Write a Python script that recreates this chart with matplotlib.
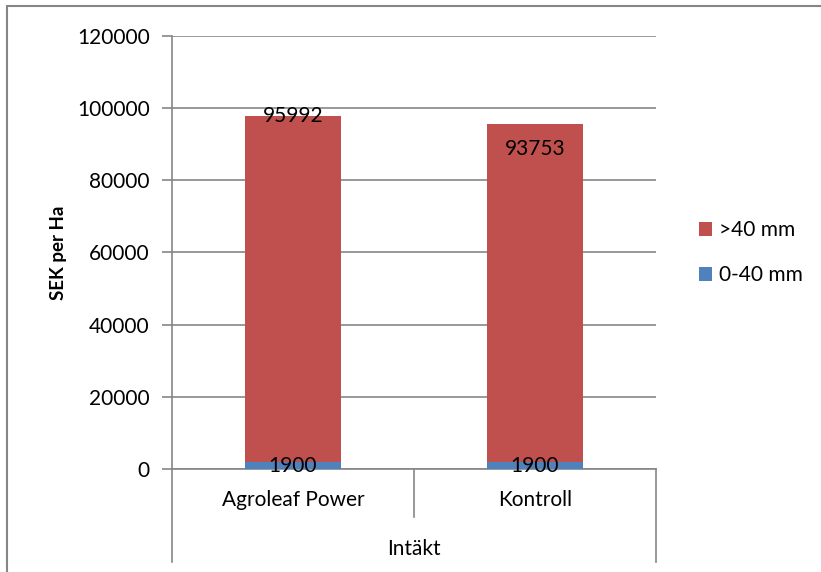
import matplotlib
matplotlib.use("Agg")
import matplotlib.pyplot as plt
from matplotlib.patches import Rectangle
import numpy as np

plt.rcParams['font.family'] = ['Lato', 'DejaVu Sans']

categories = ["Agroleaf Power", "Kontroll"]
group_label = "Intäkt"
small = [1900, 1900]        # 0-40 mm
large = [95992, 93753]      # >40 mm
y_ticks = [0, 20000, 40000, 60000, 80000, 100000, 120000]

red = "#C0504D"
blue = "#4F81BD"
grey = "#868686"
fs = 15

W, H = 821, 572
fig = plt.figure(figsize=(W / 100, H / 100), dpi=100)
ax = fig.add_axes([172 / W, 1 - 469 / H, (656 - 172) / W, (469 - 36) / H])

x = np.arange(len(categories))
ax.bar(x, small, width=0.4, color=blue, label="0-40 mm", zorder=3)
ax.bar(x, large, width=0.4, bottom=small, color=red, label=">40 mm", zorder=3)

# data labels
lab_offsets = [0, -18]  # points, Excel moved one of them
for i in range(len(categories)):
    ax.annotate(str(small[i]), (x[i], small[i] / 2), ha="center", va="center",
                fontsize=fs, zorder=4)
    ax.annotate(str(large[i]), (x[i], small[i] + large[i]), xytext=(0, lab_offsets[i]),
                textcoords="offset points", ha="center", va="center",
                fontsize=fs, zorder=4)

ax.set_xlim(-0.5, len(categories) - 0.5)
ax.set_ylim(0, 120000)
ax.set_yticks(y_ticks)
ax.set_yticklabels([str(t) for t in y_ticks], fontsize=fs)
ax.tick_params(axis="y", length=7, width=1.2, color=grey, pad=9)
ax.tick_params(axis="x", length=0, labelbottom=False)
ax.yaxis.grid(True, color=grey, linewidth=1.2, zorder=0)
for s in ["top", "right"]:
    ax.spines[s].set_visible(False)
ax.spines["left"].set_color(grey)
ax.spines["left"].set_linewidth(1.2)
ax.spines["bottom"].set_color(grey)
ax.spines["bottom"].set_linewidth(1.2)
ax.set_ylabel("SEK per Ha", fontsize=13.5, fontweight="bold", labelpad=7)

# multi-level category axis
tr = ax.transAxes
ax.plot([0, 0], [0, -0.215], transform=tr, color=grey, lw=1.2, clip_on=False)
ax.plot([1, 1], [0, -0.215], transform=tr, color=grey, lw=1.2, clip_on=False)
ax.plot([0.5, 0.5], [0, -0.111], transform=tr, color=grey, lw=1.2, clip_on=False)
for i, c in enumerate(categories):
    ax.text((i + 0.5) / len(categories), -0.072, c, transform=tr,
            ha="center", va="center", fontsize=fs)
ax.text(0.5, -0.184, group_label, transform=tr, ha="center", va="center", fontsize=fs)

handles, labels = ax.get_legend_handles_labels()
ax.legend(handles[::-1], labels[::-1], loc="center left", bbox_to_anchor=(1.05, 0.5),
          frameon=False, fontsize=fs, handlelength=0.65, handleheight=0.65,
          handletextpad=0.3, labelspacing=1.2)

# chart border (runs off the right and bottom edges)
fig.add_artist(Rectangle((7 / W, -0.1), 1.1, 1 - 6 / H + 0.1, transform=fig.transFigure,
                         fill=False, edgecolor=grey, linewidth=1.5))

fig.savefig("out.png", dpi=100)
